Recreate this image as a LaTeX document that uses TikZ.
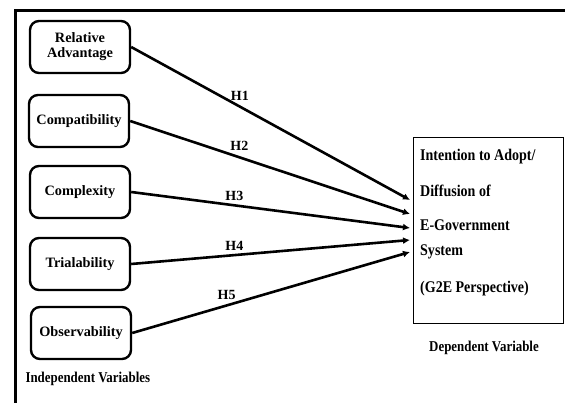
\documentclass[tikz,border=0pt]{standalone}
\usepackage{fontspec}
\setmainfont{Liberation Serif}
\newfontfamily\narrowserif[FakeStretch=0.86]{Liberation Serif}
\usetikzlibrary{arrows.meta,positioning}

\begin{document}
\begin{tikzpicture}[x=1pt,y=-1pt,
  ivbox/.style={draw, line width=2.4pt, rounded corners=9pt, minimum width=100pt,
    minimum height=52pt, align=center, inner sep=2pt, font=\bfseries\fontsize{14.3}{15}\selectfont},
  hyp/.style={line width=2.6pt, -{Latex[length=7pt,width=7pt]}},
  hlabel/.style={font=\bfseries\fontsize{14}{15}\selectfont, inner sep=2pt},
  caption/.style={font=\narrowserif\bfseries\fontsize{15}{17}\selectfont}]
\useasboundingbox (0,0) rectangle (565,403);
\draw[line width=3pt] (15,403) -- (15,11) -- (565,11);

% independent variables
\node[ivbox] (ra) at (80,47) {Relative\\Advantage};
\node[ivbox] (cp) at (79,121) {Compatibility};
\node[ivbox] (cx) at (80,192) {Complexity};
\node[ivbox] (tr) at (80,264) {Trialability};
\node[ivbox] (ob) at (81,333) {Observability};
\node[caption, anchor=west] (iv) at (22,379) {Independent Variables};

% dependent variable
\node[draw, line width=1pt, minimum width=150pt, minimum height=186pt, anchor=north west] (dv) at (413,137) {};
\node[anchor=north west, align=left, inner sep=0pt, font=\narrowserif\bfseries\fontsize{16.3}{25}\selectfont] (dvt) at (420,149)
  {Intention to Adopt/\\[11pt] Diffusion of\\[9pt]E-Government\\System\\[12pt](G2E Perspective)};
\node[caption] (dvl) at (484,348) {Dependent Variable};

\coordinate (e1) at (410,200);
\coordinate (e2) at (410,214);
\coordinate (e3) at (410,228);
\coordinate (e4) at (410,240);
\coordinate (e5) at (410,252);

\draw[hyp] (ra.east) -- node[hlabel, pos=0.39, above=3pt] {H1} (e1);
\draw[hyp] (cp.east) -- node[hlabel, pos=0.39, above=3pt] {H2} (e2);
\draw[hyp] (cx.east) -- node[hlabel, pos=0.37, above=1pt] {H3} (e3);
\draw[hyp] (tr.east) -- node[hlabel, pos=0.37, above=1pt] {H4} (e4);
\draw[hyp] (ob.east) -- node[hlabel, pos=0.34, above=3pt] {H5} (e5);
\end{tikzpicture}
\end{document}
